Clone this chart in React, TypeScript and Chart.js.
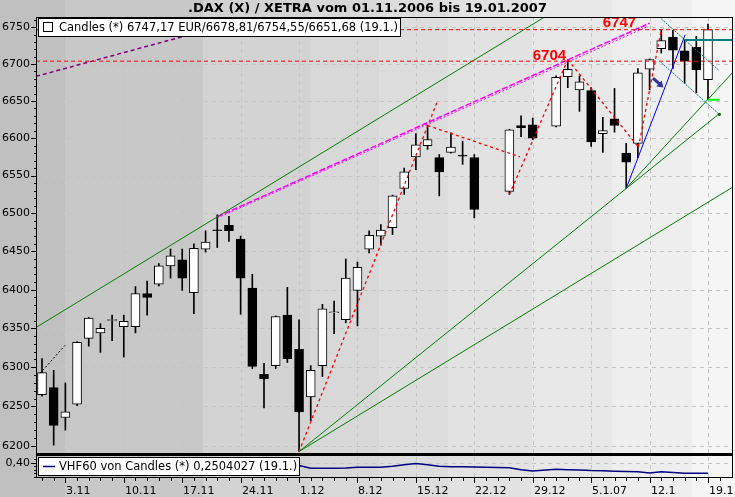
import React, { useEffect, useRef } from "react";
import { Chart, registerables } from "chart.js";

Chart.register(...registerables);

// ---------------- data ----------------
// slot = weekday index counted from 1.11.2006 (holidays keep their slot)
const candleSlots = [0, 1, 2, 3, 4, 5, 6, 7, 8, 9, 10, 11, 12, 13, 14, 15, 16, 17, 18, 19, 20, 21, 22, 23, 24, 25, 26, 27, 28, 29, 30, 31, 32, 33, 34, 35, 36, 37, 40, 41, 42, 44, 45, 46, 47, 48, 49, 50, 51, 52, 53, 54, 55, 56, 57];
const opens = [6265, 6274, 6236, 6253, 6337, 6344, 6360, 6352, 6352, 6395, 6407, 6431, 6439, 6396, 6453, 6478, 6484, 6466, 6402, 6291, 6302, 6367, 6323, 6262, 6302, 6370, 6361, 6399, 6453, 6470, 6481, 6533, 6575, 6590, 6574, 6581, 6577, 6574, 6529, 6617, 6618, 6616, 6683, 6665, 6664, 6606, 6626, 6580, 6593, 6693, 6721, 6737, 6718, 6723, 6678.81];
const highs = [6311, 6296, 6280, 6333, 6364, 6356, 6367, 6367, 6404, 6411, 6434, 6453, 6453, 6460, 6477, 6498, 6496, 6470, 6420, 6305, 6366, 6403, 6361, 6302, 6381, 6385, 6440, 6436, 6477, 6485, 6524, 6560, 6606, 6617, 6578, 6607, 6596, 6578, 6612, 6630, 6627, 6684, 6706, 6684, 6668, 6628, 6667, 6593, 6694, 6707, 6747, 6746, 6733, 6738, 6754.55];
const lows = [6263, 6201, 6220, 6251, 6327, 6319, 6334, 6313, 6344, 6367, 6405, 6415, 6399, 6369, 6449, 6455, 6463, 6368, 6298, 6248, 6298, 6306, 6193, 6232, 6288, 6343, 6357, 6353, 6448, 6458, 6472, 6525, 6558, 6585, 6523, 6580, 6565, 6494, 6525, 6602, 6598, 6615, 6668, 6636, 6589, 6581, 6608, 6533, 6574, 6665, 6715, 6694, 6674, 6661, 6651.68];
const closes = [6293, 6226, 6243, 6332, 6363, 6350, 6361, 6359, 6395, 6390, 6431, 6444, 6415, 6454, 6462, 6477, 6477, 6415, 6301, 6285, 6365, 6311, 6243, 6296, 6375, 6371, 6415, 6429, 6471, 6478, 6523, 6555, 6591, 6598, 6555, 6588, 6576, 6505, 6611, 6614, 6600, 6682, 6693, 6676, 6595, 6610, 6617, 6568, 6688, 6706, 6732, 6719, 6704, 6692, 6747.17];

const vhfSlots = [21, 22, 23, 24, 25, 26, 27, 28, 29, 30, 31, 32, 33, 34, 35, 36, 37, 40, 41, 42, 44, 45, 46, 47, 48, 49, 50, 51, 52, 53, 54, 55, 56, 57];
const vhfValues = [0.40, 0.36, 0.32, 0.32, 0.32, 0.325, 0.334, 0.334, 0.334, 0.35, 0.37, 0.39, 0.37, 0.35, 0.344, 0.344, 0.34, 0.33, 0.30, 0.283, 0.306, 0.30, 0.297, 0.29, 0.2875, 0.28, 0.275, 0.273, 0.255, 0.273, 0.26, 0.25, 0.25, 0.2504];

const priceTicks = [6200, 6250, 6300, 6350, 6400, 6450, 6500, 6550, 6600, 6650, 6700, 6750];
const priceMinorStep = 10;
const vhfTicks = [0.40];
const vhfMinorTicks = [0.45, 0.35, 0.30, 0.25, 0.20];
const dateTickSlots = [2, 7, 12, 17, 22, 27, 32, 37, 42, 47, 52, 57];
const dateTickLabels = ["3.11", "10.11", "17.11", "24.11", "1.12", "8.12", "15.12", "22.12", "29.12", "5.1.07", "12.1", "19.1"];

// drawn analysis objects (slot, price)
const levelPrices = [6747, 6704];
const levelLabelSlots = [48, 42];
const levelLabelLift = [3, 1];
const swingUp1Slots = [22, 33.8];
const swingUp1Prices = [6193, 6648];
const swingDown1Slots = [33, 40.9];
const swingDown1Prices = [6617, 6575];
const swingUp2Slots = [40, 45];
const swingUp2Prices = [6525, 6706];
const swingDown2Slots = [45, 51.05];
const swingDown2Prices = [6706, 6588];
const swingUp3Slots = [51.05, 53];
const swingUp3Prices = [6588, 6747];
const startDotSlots = [-0.17, 1.97];
const startDotPrices = [6292, 6328];
const channelTopSlots = [-0.51, 44];
const channelTopPrices = [6351, 6774];
const fanASlots = [22, 57.9];
const fanAPrices = [6193, 6632];
const fanBSlots = [22, 60];
const fanBPrices = [6193, 6543];
const fanCSlots = [50, 60];
const fanCPrices = [6533, 6704];
const blueSlots = [50, 55.04];
const bluePrices = [6533, 6740];
const magentaASlots = [15, 52];
const magentaAPrices = [6495.5, 6755.8];
const magentaBSlots = [15, 51.75];
const magentaBPrices = [6493.8, 6750.7];
const purpleSlots = [-0.51, 20];
const purplePrices = [6683.4, 6772];
const tealASlots = [53, 57.97];
const tealAPrices = [6762, 6691];
const tealBSlots = [53, 57.97];
const tealBPrices = [6702, 6632];
const tealHSlots = [55, 59.2];
const tealHPrices = [6733, 6733];
const limeSlots = [57, 58];
const limePrices = [6651.68, 6651.68];
const endDot = [57.97, 6632];
const arrowTail = [52.29, 6681];
const arrowHead = [53.06, 6670];

const title = ".DAX (X) / XETRA vom 01.11.2006 bis 19.01.2007";
const legendText = "Candles (*) 6747,17 EUR/6678,81/6754,55/6651,68 (19.1.)";
const vhfLegendText = "VHF60 von Candles (*) 0,2504027 (19.1.)";

// ---------------- layout / style ----------------
const W = 735;
const H = 497;
const AREA = { left: 36, top: 17, right: 733, bottom: 478 };
const SEP_Y = 454.5;
const X_MIN = -0.5135;
const X_MAX = 59.14;
const P_MIN = 6159.8;
const P_MAX = 6764.4;
const V_MIN = 0.1835;
const V_MAX = 6.707;
const bandEdges = [0, 65, 203, 310, 379, 448, 532, 612, 692, 735];
const bandColors = ["#c0c0c0", "#c8c8c8", "#d3d3d3", "#d8d8d8", "#dddddd", "#e2e2e2", "#e8e8e8", "#eeeeee", "#f5f5f5"];
const FONT = '"DejaVu Sans", sans-serif';

function pts(xs: number[], ys: number[]) {
  return xs.map((x, i) => ({ x, y: ys[i] }));
}

function lineDs(data: any[], color: string, width: number, dash: number[] = [], yAxisID = "y") {
  return {
    type: "line" as const,
    data,
    borderColor: color,
    borderWidth: width,
    borderDash: dash,
    pointRadius: 0,
    fill: false,
    tension: 0,
    order: 0,
    yAxisID,
  };
}

const decor = {
  id: "decor",
  beforeDraw(chart: any) {
    const ctx = chart.ctx as CanvasRenderingContext2D;
    const xs = chart.scales.x;
    const ys = chart.scales.y;
    const vs = chart.scales.y2;
    ctx.save();
    for (let i = 0; i < bandColors.length; i++) {
      ctx.fillStyle = bandColors[i];
      ctx.fillRect(bandEdges[i], 0, bandEdges[i + 1] - bandEdges[i], H);
    }
    ctx.strokeStyle = "#c4c4c4";
    ctx.lineWidth = 1;
    ctx.setLineDash([4, 4]);
    for (const p of priceTicks) {
      const y = Math.round(ys.getPixelForValue(p)) + 0.5;
      ctx.beginPath();
      ctx.moveTo(AREA.left, y);
      ctx.lineTo(AREA.right, y);
      ctx.stroke();
    }
    for (const v of vhfTicks) {
      const y = Math.round(vs.getPixelForValue(v)) + 0.5;
      ctx.beginPath();
      ctx.moveTo(AREA.left, y);
      ctx.lineTo(AREA.right, y);
      ctx.stroke();
    }
    for (const s of dateTickSlots) {
      const x = Math.round(xs.getPixelForValue(s)) + 0.5;
      ctx.beginPath();
      ctx.moveTo(x, AREA.top);
      ctx.lineTo(x, AREA.bottom);
      ctx.stroke();
    }
    ctx.restore();
  },
  afterDatasetsDraw(chart: any) {
    const ctx = chart.ctx as CanvasRenderingContext2D;
    const xs = chart.scales.x;
    const ys = chart.scales.y;
    ctx.save();
    ctx.beginPath();
    ctx.rect(AREA.left, AREA.top, AREA.right - AREA.left, SEP_Y - AREA.top);
    ctx.clip();
    // level labels
    ctx.fillStyle = "#ff0000";
    ctx.font = 'bold 15px "Liberation Sans", sans-serif';
    ctx.textAlign = "left";
    ctx.textBaseline = "alphabetic";
    levelPrices.forEach((p, i) => {
      const x = xs.getPixelForValue(levelLabelSlots[i]);
      const y = ys.getPixelForValue(p) - levelLabelLift[i];
      ctx.fillText(String(p), x, y);
    });
    // end dot
    ctx.fillStyle = "#006400";
    ctx.beginPath();
    ctx.arc(xs.getPixelForValue(endDot[0]), ys.getPixelForValue(endDot[1]), 1.6, 0, Math.PI * 2);
    ctx.fill();
    // arrow
    const ax0 = xs.getPixelForValue(arrowTail[0]);
    const ay0 = ys.getPixelForValue(arrowTail[1]);
    const ax1 = xs.getPixelForValue(arrowHead[0]);
    const ay1 = ys.getPixelForValue(arrowHead[1]);
    const ang = Math.atan2(ay1 - ay0, ax1 - ax0);
    ctx.strokeStyle = "#333399";
    ctx.fillStyle = "#333399";
    ctx.lineWidth = 3;
    ctx.beginPath();
    ctx.moveTo(ax0, ay0);
    ctx.lineTo(ax1 - 3 * Math.cos(ang), ay1 - 3 * Math.sin(ang));
    ctx.stroke();
    ctx.beginPath();
    ctx.moveTo(ax1 + 2 * Math.cos(ang), ay1 + 2 * Math.sin(ang));
    ctx.lineTo(ax1 - 4 * Math.cos(ang) + 4 * Math.sin(ang), ay1 - 4 * Math.sin(ang) - 4 * Math.cos(ang));
    ctx.lineTo(ax1 - 4 * Math.cos(ang) - 4 * Math.sin(ang), ay1 - 4 * Math.sin(ang) + 4 * Math.cos(ang));
    ctx.closePath();
    ctx.fill();
    ctx.restore();
  },
  afterDraw(chart: any) {
    const ctx = chart.ctx as CanvasRenderingContext2D;
    const xs = chart.scales.x;
    const ys = chart.scales.y;
    const vs = chart.scales.y2;
    ctx.save();
    ctx.setLineDash([]);
    ctx.strokeStyle = "#000";
    ctx.fillStyle = "#000";
    ctx.lineWidth = 1;
    // frame
    ctx.strokeRect(AREA.left + 0.5, AREA.top + 0.5, AREA.right - AREA.left - 1, AREA.bottom - AREA.top - 1);
    ctx.fillRect(AREA.left, SEP_Y - 1.5, AREA.right - AREA.left, 3);
    // price axis ticks
    ctx.beginPath();
    for (let p = 6190; p <= 6760; p += priceMinorStep) {
      const y = Math.round(ys.getPixelForValue(p)) + 0.5;
      if (y < AREA.top || y > SEP_Y - 2) continue;
      const major = priceTicks.includes(p);
      ctx.moveTo(AREA.left - (major ? 5 : 2), y);
      ctx.lineTo(AREA.left, y);
    }
    for (const v of vhfTicks.concat(vhfMinorTicks)) {
      const y = Math.round(vs.getPixelForValue(v)) + 0.5;
      const major = vhfTicks.includes(v);
      ctx.moveTo(AREA.left - (major ? 5 : 2), y);
      ctx.lineTo(AREA.left, y);
    }
    for (let s = 0; s <= 58; s++) {
      const x = Math.round(xs.getPixelForValue(s)) + 0.5;
      const major = dateTickSlots.includes(s);
      ctx.moveTo(x, AREA.bottom);
      ctx.lineTo(x, AREA.bottom + (major ? 5 : 3));
    }
    ctx.stroke();
    ctx.font = "11px " + FONT;
    ctx.textAlign = "right";
    ctx.textBaseline = "middle";
    for (const p of priceTicks) {
      ctx.fillText(String(p), 30, ys.getPixelForValue(p));
    }
    for (const v of vhfTicks) {
      ctx.fillText(v.toFixed(2).replace(".", ","), 30, vs.getPixelForValue(v));
    }
    ctx.textAlign = "left";
    ctx.textBaseline = "alphabetic";
    dateTickSlots.forEach((s, i) => {
      ctx.fillText(dateTickLabels[i], Math.round(xs.getPixelForValue(s)) + 1, 494);
    });
    // title
    ctx.font = "bold 13px " + FONT;
    ctx.textAlign = "center";
    ctx.textBaseline = "middle";
    ctx.fillText(title, W / 2, 9);
    // main legend
    ctx.fillStyle = "#fff";
    ctx.fillRect(38, 18, 363, 19);
    ctx.strokeRect(38.5, 18.5, 362, 18);
    ctx.strokeRect(43.5, 22.5, 9, 9);
    ctx.fillStyle = "#000";
    ctx.font = "11.5px " + FONT;
    ctx.textAlign = "left";
    ctx.fillText(legendText, 59, 28);
    // vhf legend
    ctx.fillStyle = "#fff";
    ctx.fillRect(38, 457, 262, 19);
    ctx.strokeRect(38.5, 457.5, 261, 18);
    ctx.strokeStyle = "#000080";
    ctx.lineWidth = 1.5;
    ctx.beginPath();
    ctx.moveTo(43, 466.5);
    ctx.lineTo(55, 466.5);
    ctx.stroke();
    ctx.fillStyle = "#000";
    ctx.font = "11.5px " + FONT;
    ctx.fillText(vhfLegendText, 59, 467);
    ctx.restore();
  },
};

export default function App() {
  const ref = useRef<HTMLCanvasElement>(null);
  useEffect(() => {
    document.body.style.margin = "0";
    const wickData = candleSlots.map((s, i) => ({ x: s, y: [lows[i], highs[i]] }));
    const bodyData = candleSlots.map((s, i) => ({ x: s, y: [opens[i], closes[i]] }));
    const bodyColors = candleSlots.map((_, i) => (closes[i] >= opens[i] ? "#ffffff" : "#000000"));
    const datasets: any[] = [
      lineDs(pts([X_MIN, X_MAX], [levelPrices[0], levelPrices[0]]), "#ff0000", 1, [4, 3]),
      lineDs(pts([X_MIN, X_MAX], [levelPrices[1], levelPrices[1]]), "#ff0000", 1, [4, 3]),
      lineDs(pts(channelTopSlots, channelTopPrices), "#008000", 1),
      lineDs(pts(fanASlots, fanAPrices), "#008000", 1),
      lineDs(pts(fanBSlots, fanBPrices), "#008000", 1),
      lineDs(pts(fanCSlots, fanCPrices), "#008000", 1),
      lineDs(pts(purpleSlots, purplePrices), "#800080", 1.5, [4, 3]),
      lineDs(pts(magentaASlots, magentaAPrices), "#ff00ff", 1.5, [6, 2]),
      lineDs(pts(magentaBSlots, magentaBPrices), "#ff00ff", 1, [2, 2]),
      lineDs(pts(swingUp1Slots, swingUp1Prices), "#ff0000", 1.3, [3, 3]),
      lineDs(pts(swingDown1Slots, swingDown1Prices), "#ff0000", 1.3, [3, 3]),
      lineDs(pts(swingUp2Slots, swingUp2Prices), "#ff0000", 1.3, [3, 3]),
      lineDs(pts(swingDown2Slots, swingDown2Prices), "#ff0000", 1.3, [3, 3]),
      lineDs(pts(swingUp3Slots, swingUp3Prices), "#ff0000", 1.3, [3, 3]),
      lineDs(pts(startDotSlots, startDotPrices), "#000000", 1, [2, 2]),
      lineDs(pts(blueSlots, bluePrices), "#0000ff", 1),
      lineDs(pts(tealASlots, tealAPrices), "#008080", 1, [2, 1]),
      lineDs(pts(tealBSlots, tealBPrices), "#008080", 1, [2, 1]),
      lineDs(pts(tealHSlots, tealHPrices), "#008080", 2),
      lineDs(pts(limeSlots, limePrices), "#00ff00", 2),
      lineDs(pts(vhfSlots, vhfValues), "#000080", 1.5, [], "y2"),
      {
        type: "bar",
        data: bodyData,
        backgroundColor: bodyColors,
        borderColor: "#000000",
        borderWidth: 1,
        borderSkipped: false,
        barThickness: 9,
        minBarLength: 1,
        grouped: false,
        order: 2,
        yAxisID: "y",
      },
      {
        type: "bar",
        data: wickData,
        backgroundColor: "#000000",
        borderWidth: 0,
        barThickness: 1,
        grouped: false,
        order: 3,
        yAxisID: "y",
      },
    ];
    const chart = new Chart(ref.current as HTMLCanvasElement, {
      type: "line",
      data: { datasets },
      options: {
        animation: false,
        responsive: false,
        devicePixelRatio: 1,
        layout: { padding: { left: AREA.left, top: AREA.top, right: W - AREA.right, bottom: H - AREA.bottom } },
        plugins: { legend: { display: false }, tooltip: { enabled: false }, title: { display: false } },
        events: [],
        scales: {
          x: { type: "linear", min: X_MIN, max: X_MAX, display: false, offset: false },
          y: { type: "logarithmic", min: P_MIN, max: P_MAX, display: false, bounds: "data" },
          y2: { type: "linear", min: V_MIN, max: V_MAX, display: false, bounds: "data" },
        },
      } as any,
      plugins: [decor],
    } as any);
    return () => chart.destroy();
  }, []);
  return <canvas ref={ref} width={W} height={H} style={{ display: "block", width: W, height: H }} />;
}
